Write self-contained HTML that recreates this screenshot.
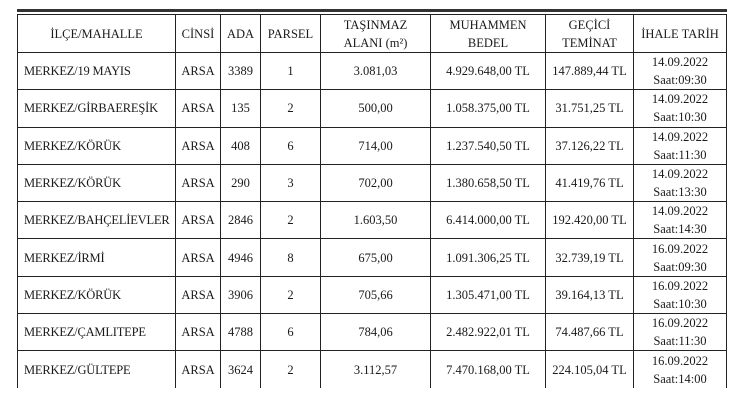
<!DOCTYPE html>
<html><head><meta charset="utf-8"><style>
body{margin:0;background:#fff;width:730px;height:420px;overflow:hidden;font-family:"Liberation Serif",serif;color:#1a1a1a;}
.t{position:absolute;left:17px;top:14px;border-collapse:collapse;table-layout:fixed;font-size:12.5px;}
.t td{border:1px solid #222;padding:0;text-align:center;height:36.3px;line-height:18px;}
.t tr.h td{height:37px;line-height:18px;}
.t td.l{text-align:left;padding-left:6px;letter-spacing:-0.2px;}
.t tr:last-child td{border-bottom:none;}
.bar{position:absolute;left:17px;width:710px;top:9px;height:3px;background:#333;}
</style></head><body>
<div class="bar"></div>
<table class="t">
<colgroup><col style="width:158px"><col style="width:45px"><col style="width:40px"><col style="width:60px"><col style="width:110px"><col style="width:115px"><col style="width:88px"><col style="width:93px"></colgroup>
<tr class="h"><td>İLÇE/MAHALLE</td><td>CİNSİ</td><td>ADA</td><td>PARSEL</td><td>TAŞINMAZ<br>ALANI (m²)</td><td>MUHAMMEN<br>BEDEL</td><td>GEÇİCİ<br>TEMİNAT</td><td>İHALE TARİH</td></tr>
<tr><td class="l">MERKEZ/19 MAYIS</td><td>ARSA</td><td>3389</td><td>1</td><td>3.081,03</td><td>4.929.648,00 TL</td><td>147.889,44 TL</td><td>14.09.2022<br>Saat:09:30</td></tr>
<tr><td class="l">MERKEZ/GİRBAEREŞİK</td><td>ARSA</td><td>135</td><td>2</td><td>500,00</td><td>1.058.375,00 TL</td><td>31.751,25 TL</td><td>14.09.2022<br>Saat:10:30</td></tr>
<tr><td class="l">MERKEZ/KÖRÜK</td><td>ARSA</td><td>408</td><td>6</td><td>714,00</td><td>1.237.540,50 TL</td><td>37.126,22 TL</td><td>14.09.2022<br>Saat:11:30</td></tr>
<tr><td class="l">MERKEZ/KÖRÜK</td><td>ARSA</td><td>290</td><td>3</td><td>702,00</td><td>1.380.658,50 TL</td><td>41.419,76 TL</td><td>14.09.2022<br>Saat:13:30</td></tr>
<tr><td class="l">MERKEZ/BAHÇELİEVLER</td><td>ARSA</td><td>2846</td><td>2</td><td>1.603,50</td><td>6.414.000,00 TL</td><td>192.420,00 TL</td><td>14.09.2022<br>Saat:14:30</td></tr>
<tr><td class="l">MERKEZ/İRMİ</td><td>ARSA</td><td>4946</td><td>8</td><td>675,00</td><td>1.091.306,25 TL</td><td>32.739,19 TL</td><td>16.09.2022<br>Saat:09:30</td></tr>
<tr><td class="l">MERKEZ/KÖRÜK</td><td>ARSA</td><td>3906</td><td>2</td><td>705,66</td><td>1.305.471,00 TL</td><td>39.164,13 TL</td><td>16.09.2022<br>Saat:10:30</td></tr>
<tr><td class="l">MERKEZ/ÇAMLITEPE</td><td>ARSA</td><td>4788</td><td>6</td><td>784,06</td><td>2.482.922,01 TL</td><td>74.487,66 TL</td><td>16.09.2022<br>Saat:11:30</td></tr>
<tr><td class="l">MERKEZ/GÜLTEPE</td><td>ARSA</td><td>3624</td><td>2</td><td>3.112,57</td><td>7.470.168,00 TL</td><td>224.105,04 TL</td><td>16.09.2022<br>Saat:14:00</td></tr>
</table>
</body></html>
